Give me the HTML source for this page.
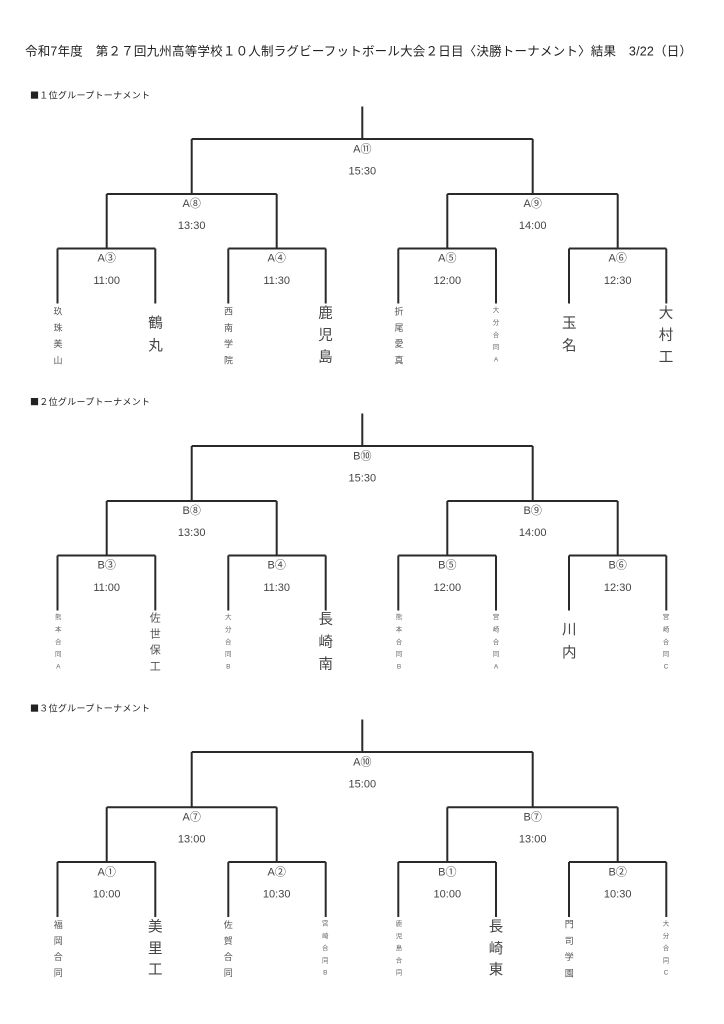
<!DOCTYPE html>
<html><head><meta charset="utf-8">
<style>
html,body{margin:0;padding:0;background:#fff;}
svg{display:block;}
.t{font-family:"Liberation Sans","Noto Sans CJK JP",sans-serif;}
.h{font-family:"Noto Sans CJK JP","Liberation Sans",sans-serif;}
</style></head>
<body>
<svg width="724" height="1024" viewBox="0 0 724 1024" xmlns="http://www.w3.org/2000/svg">
<rect width="724" height="1024" fill="#fff"/>
<text class="t" x="25" y="51.5" font-size="12.5" fill="#222" dominant-baseline="central" textLength="667" lengthAdjust="spacing">令和7年度　第２７回九州高等学校１０人制ラグビーフットボール大会２日目〈決勝トーナメント〉結果　3/22（日）</text>

<g id="s1">
<text class="h" x="30" y="95" font-size="9" fill="#222" dominant-baseline="central" textLength="120" lengthAdjust="spacing">■１位グループトーナメント</text>
<g stroke="#2a2a2a" stroke-width="2" fill="none">
<path d="M362.3 106.5V139M191.7 139H532.7M191.7 139V194M532.7 139V194M106.7 194H276.7M447.3 194H617.7M106.7 194V248.5M276.7 194V248.5M447.3 194V248.5M617.7 194V248.5M57.5 248.5H155.3M228.3 248.5H325.7M398.3 248.5H496M569 248.5H666.3M57.5 248.5V303.5M155.3 248.5V303.5M228.3 248.5V303.5M325.7 248.5V303.5M398.3 248.5V303.5M496 248.5V303.5M569 248.5V303.5M666.3 248.5V303.5"/>
</g>
<g class="t" font-size="11" fill="#444" text-anchor="middle" dominant-baseline="central">
<text x="362.3" y="149.3">A⑪</text><text x="362.3" y="171.5">15:30</text>
<text x="191.7" y="204">A⑧</text><text x="191.7" y="226">13:30</text>
<text x="532.7" y="204">A⑨</text><text x="532.7" y="226">14:00</text>
<text x="106.7" y="258.5">A③</text><text x="106.7" y="281">11:00</text>
<text x="276.7" y="258.5">A④</text><text x="276.7" y="281">11:30</text>
<text x="447.3" y="258.5">A⑤</text><text x="447.3" y="281">12:00</text>
<text x="617.7" y="258.5">A⑥</text><text x="617.7" y="281">12:30</text>
</g>
<g class="t" text-anchor="middle" dominant-baseline="central">
<g font-size="9" fill="#555">
<text x="58" y="311.5">玖</text><text x="58" y="327.8">珠</text><text x="58" y="344.1">美</text><text x="58" y="360.4">山</text>
<text x="228.5" y="311.5">西</text><text x="228.5" y="327.8">南</text><text x="228.5" y="344.1">学</text><text x="228.5" y="360.4">院</text>
<text x="399" y="311.5">折</text><text x="399" y="327.8">尾</text><text x="399" y="344.1">愛</text><text x="399" y="360.4">真</text>
</g>
<g font-size="6.5" fill="#666">
<text x="496" y="310.7">大</text><text x="496" y="323">分</text><text x="496" y="335.3">合</text><text x="496" y="347.6">同</text><text x="496" y="359.9">A</text>
</g>
<g font-size="14.5" fill="#444">
<text x="155.5" y="324">鶴</text><text x="155.5" y="346.7">丸</text>
<text x="325.5" y="314">鹿</text><text x="325.5" y="336">児</text><text x="325.5" y="358">島</text>
<text x="569.3" y="324">玉</text><text x="569.3" y="346.7">名</text>
<text x="666" y="314">大</text><text x="666" y="336">村</text><text x="666" y="358">工</text>
</g>
</g>
</g>

<g id="s2">
<text class="h" x="30" y="401.7" font-size="9" fill="#222" dominant-baseline="central" textLength="120" lengthAdjust="spacing">■２位グループトーナメント</text>
<g stroke="#2a2a2a" stroke-width="2" fill="none">
<path d="M362.3 413.5V446M191.7 446H532.7M191.7 446V501M532.7 446V501M106.7 501H276.7M447.3 501H617.7M106.7 501V555.5M276.7 501V555.5M447.3 501V555.5M617.7 501V555.5M57.5 555.5H155.3M228.3 555.5H325.7M398.3 555.5H496M569 555.5H666.3M57.5 555.5V610.5M155.3 555.5V610.5M228.3 555.5V610.5M325.7 555.5V610.5M398.3 555.5V610.5M496 555.5V610.5M569 555.5V610.5M666.3 555.5V610.5"/>
</g>
<g class="t" font-size="11" fill="#444" text-anchor="middle" dominant-baseline="central">
<text x="362.3" y="456.5">B⑩</text><text x="362.3" y="478.5">15:30</text>
<text x="191.7" y="511">B⑧</text><text x="191.7" y="533">13:30</text>
<text x="532.7" y="511">B⑨</text><text x="532.7" y="533">14:00</text>
<text x="106.7" y="565.7">B③</text><text x="106.7" y="588">11:00</text>
<text x="276.7" y="565.7">B④</text><text x="276.7" y="588">11:30</text>
<text x="447.3" y="565.7">B⑤</text><text x="447.3" y="588">12:00</text>
<text x="617.7" y="565.7">B⑥</text><text x="617.7" y="588">12:30</text>
</g>
<g class="t" text-anchor="middle" dominant-baseline="central">
<g font-size="6.5" fill="#666">
<text x="58.3" y="617.7">熊</text><text x="58.3" y="630">本</text><text x="58.3" y="642.3">合</text><text x="58.3" y="654.6">同</text><text x="58.3" y="666.9">A</text>
<text x="228.3" y="617.7">大</text><text x="228.3" y="630">分</text><text x="228.3" y="642.3">合</text><text x="228.3" y="654.6">同</text><text x="228.3" y="666.9">B</text>
<text x="399" y="617.7">熊</text><text x="399" y="630">本</text><text x="399" y="642.3">合</text><text x="399" y="654.6">同</text><text x="399" y="666.9">B</text>
<text x="496" y="617.7">宮</text><text x="496" y="630">崎</text><text x="496" y="642.3">合</text><text x="496" y="654.6">同</text><text x="496" y="666.9">A</text>
<text x="666" y="617.7">宮</text><text x="666" y="630">崎</text><text x="666" y="642.3">合</text><text x="666" y="654.6">同</text><text x="666" y="666.9">C</text>
</g>
<g font-size="11" fill="#555">
<text x="155.3" y="618.3">佐</text><text x="155.3" y="634.5">世</text><text x="155.3" y="650.7">保</text><text x="155.3" y="666.9">工</text>
</g>
<g font-size="14.5" fill="#444">
<text x="325.7" y="620">長</text><text x="325.7" y="643">崎</text><text x="325.7" y="665">南</text>
<text x="569.3" y="630.7">川</text><text x="569.3" y="653.3">内</text>
</g>
</g>
</g>

<g id="s3">
<text class="h" x="30" y="708" font-size="9" fill="#222" dominant-baseline="central" textLength="120" lengthAdjust="spacing">■３位グループトーナメント</text>
<g stroke="#2a2a2a" stroke-width="2" fill="none">
<path d="M362.3 719.5V752M191.7 752H532.7M191.7 752V807.3M532.7 752V807.3M106.7 807.3H276.7M447.3 807.3H617.7M106.7 807.3V862M276.7 807.3V862M447.3 807.3V862M617.7 807.3V862M57.5 862H155.3M228.3 862H325.7M398.3 862H496M569 862H666.3M57.5 862V917M155.3 862V917M228.3 862V917M325.7 862V917M398.3 862V917M496 862V917M569 862V917M666.3 862V917"/>
</g>
<g class="t" font-size="11" fill="#444" text-anchor="middle" dominant-baseline="central">
<text x="362.3" y="762.5">A⑩</text><text x="362.3" y="784.5">15:00</text>
<text x="191.7" y="817.5">A⑦</text><text x="191.7" y="839.5">13:00</text>
<text x="532.7" y="817.5">B⑦</text><text x="532.7" y="839.5">13:00</text>
<text x="106.7" y="872.5">A①</text><text x="106.7" y="894.5">10:00</text>
<text x="276.7" y="872.5">A②</text><text x="276.7" y="894.5">10:30</text>
<text x="447.3" y="872.5">B①</text><text x="447.3" y="894.5">10:00</text>
<text x="617.7" y="872.5">B②</text><text x="617.7" y="894.5">10:30</text>
</g>
<g class="t" text-anchor="middle" dominant-baseline="central">
<g font-size="9" fill="#555">
<text x="58.3" y="925">福</text><text x="58.3" y="941">岡</text><text x="58.3" y="957">合</text><text x="58.3" y="973">同</text>
<text x="228.3" y="925">佐</text><text x="228.3" y="941">賀</text><text x="228.3" y="957">合</text><text x="228.3" y="973">同</text>
<text x="569.3" y="924.5">門</text><text x="569.3" y="940.8">司</text><text x="569.3" y="957.1">学</text><text x="569.3" y="973.4">園</text>
</g>
<g font-size="6.5" fill="#666">
<text x="325.3" y="924">宮</text><text x="325.3" y="936.3">崎</text><text x="325.3" y="948.6">合</text><text x="325.3" y="960.9">同</text><text x="325.3" y="973.2">B</text>
<text x="399" y="924">鹿</text><text x="399" y="936.3">児</text><text x="399" y="948.6">島</text><text x="399" y="960.9">合</text><text x="399" y="973.2">同</text>
<text x="666" y="924">大</text><text x="666" y="936.3">分</text><text x="666" y="948.6">合</text><text x="666" y="960.9">同</text><text x="666" y="973.2">C</text>
</g>
<g font-size="14.5" fill="#444">
<text x="155.3" y="927.3">美</text><text x="155.3" y="949.5">里</text><text x="155.3" y="970.7">工</text>
<text x="496" y="927.3">長</text><text x="496" y="949.5">崎</text><text x="496" y="970.7">東</text>
</g>
</g>
</g>
</svg>
</body></html>
